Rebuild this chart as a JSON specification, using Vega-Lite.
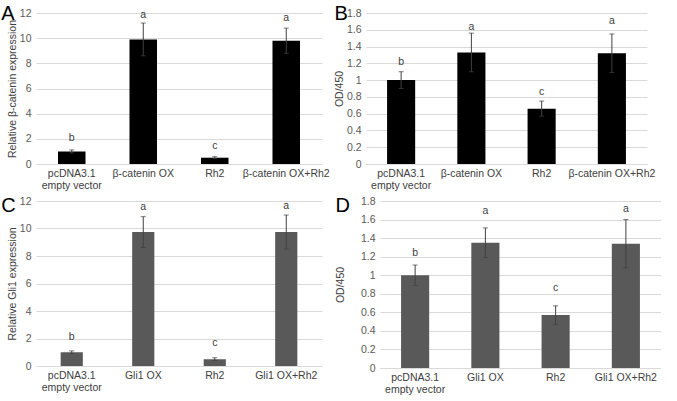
{
  "$schema": "https://vega.github.io/schema/vega-lite/v6.json",
  "padding": {"left": 1, "top": 4, "right": 0, "bottom": 0},
  "background": "white",
  "config": {
    "font": "Liberation Sans",
    "view": {"stroke": null},
    "axis": {"labelFontSize": 10.5, "labelColor": "#595959", "titleFontSize": 10.5, "titleColor": "#404040", "titleFontWeight": "normal", "gridColor": "#d9d9d9", "domainColor": "#d9d9d9", "ticks": false, "labelOverlap": false},
    "title": {"fontSize": 20, "fontWeight": "normal", "color": "#000000", "anchor": "start", "frame": "bounds"}
  },
  "vconcat": [
    {
      "spacing": 4,
      "hconcat": [
        {
          "width": 286, "height": 151,
          "title": {"text": "A", "offset": -16, "dx": -6},
          "data": {"values": [
            {"group": "pcDNA3.1|empty vector", "mean": 1.0, "err": 0.12, "letter": "b", "ly": 1.83},
            {"group": "β-catenin OX", "mean": 9.9, "err": 1.3, "letter": "a", "ly": 11.57},
            {"group": "Rh2", "mean": 0.5, "err": 0.08, "letter": "c", "ly": 1.19},
            {"group": "β-catenin OX+Rh2", "mean": 9.8, "err": 1.0, "letter": "a", "ly": 11.37}
          ]},
          "encoding": {"x": {"field": "group", "type": "nominal", "sort": null, "scale": {"paddingInner": 0.615, "paddingOuter": 0.3075}, "axis": {"title": null, "labelAngle": 0, "labelExpr": "split(datum.label, '|')", "labelLineHeight": 12, "labelPadding": 4, "labelColor": "#404040", "grid": false}}},
          "layer": [
            {"mark": {"type": "bar", "color": "#000000"}, "encoding": {"y": {"field": "mean", "type": "quantitative", "title": "Relative β-catenin expression", "scale": {"domain": [0, 12], "nice": false}, "axis": {"values": [0, 2, 4, 6, 8, 10, 12], "domain": false, "labelPadding": 5, "titlePadding": 2}}}},
            {"mark": {"type": "errorbar", "color": "#404040", "ticks": {"size": 5, "color": "#404040"}}, "encoding": {"y": {"field": "mean", "type": "quantitative", "title": "Relative β-catenin expression", "axis": {"values": [0, 2, 4, 6, 8, 10, 12], "domain": false, "labelPadding": 5, "titlePadding": 2}}, "yError": {"field": "err"}}},
            {"mark": {"type": "text", "baseline": "alphabetic", "fontSize": 10.5, "color": "#404040"}, "encoding": {"y": {"field": "ly", "type": "quantitative", "title": "Relative β-catenin expression", "axis": {"values": [0, 2, 4, 6, 8, 10, 12], "domain": false, "labelPadding": 5, "titlePadding": 2}}, "text": {"field": "letter"}}}
          ]
        },
        {
          "width": 281, "height": 151,
          "title": {"text": "B", "offset": -16, "dx": 0},
          "data": {"values": [
            {"group": "pcDNA3.1|empty vector", "mean": 1.0, "err": 0.1, "letter": "b", "ly": 1.18},
            {"group": "β-catenin OX", "mean": 1.33, "err": 0.23, "letter": "a", "ly": 1.60},
            {"group": "Rh2", "mean": 0.66, "err": 0.09, "letter": "c", "ly": 0.82},
            {"group": "β-catenin OX+Rh2", "mean": 1.32, "err": 0.23, "letter": "a", "ly": 1.67}
          ]},
          "encoding": {"x": {"field": "group", "type": "nominal", "sort": null, "scale": {"paddingInner": 0.6, "paddingOuter": 0.3}, "axis": {"title": null, "labelAngle": 0, "labelExpr": "split(datum.label, '|')", "labelLineHeight": 12, "labelPadding": 4, "labelColor": "#404040", "grid": false}}},
          "layer": [
            {"mark": {"type": "bar", "color": "#000000"}, "encoding": {"y": {"field": "mean", "type": "quantitative", "title": "OD/450", "scale": {"domain": [0, 1.8], "nice": false}, "axis": {"values": [0, 0.2, 0.4, 0.6, 0.8, 1, 1.2, 1.4, 1.6, 1.8], "format": "~g", "domain": false, "labelPadding": 5, "titlePadding": 2}}}},
            {"mark": {"type": "errorbar", "color": "#404040", "ticks": {"size": 5, "color": "#404040"}}, "encoding": {"y": {"field": "mean", "type": "quantitative", "title": "OD/450", "axis": {"values": [0, 0.2, 0.4, 0.6, 0.8, 1, 1.2, 1.4, 1.6, 1.8], "format": "~g", "domain": false, "labelPadding": 5, "titlePadding": 2}}, "yError": {"field": "err"}}},
            {"mark": {"type": "text", "baseline": "alphabetic", "fontSize": 10.5, "color": "#404040"}, "encoding": {"y": {"field": "ly", "type": "quantitative", "title": "OD/450", "axis": {"values": [0, 0.2, 0.4, 0.6, 0.8, 1, 1.2, 1.4, 1.6, 1.8], "format": "~g", "domain": false, "labelPadding": 5, "titlePadding": 2}}, "text": {"field": "letter"}}}
          ]
        }
      ]
    },
    {
      "spacing": 13,
      "hconcat": [
        {
          "width": 286, "height": 165,
          "title": {"text": "C", "offset": -20, "dx": -6},
          "data": {"values": [
            {"group": "pcDNA3.1|empty vector", "mean": 1.0, "err": 0.1, "letter": "b", "ly": 1.88},
            {"group": "Gli1 OX", "mean": 9.74, "err": 1.12, "letter": "a", "ly": 11.37},
            {"group": "Rh2", "mean": 0.5, "err": 0.1, "letter": "c", "ly": 1.46},
            {"group": "Gli1 OX+Rh2", "mean": 9.74, "err": 1.24, "letter": "a", "ly": 11.44}
          ]},
          "encoding": {"x": {"field": "group", "type": "nominal", "sort": null, "scale": {"paddingInner": 0.69, "paddingOuter": 0.345}, "axis": {"title": null, "labelAngle": 0, "labelExpr": "split(datum.label, '|')", "labelLineHeight": 12, "labelPadding": 4, "labelColor": "#404040", "grid": false}}},
          "layer": [
            {"mark": {"type": "bar", "color": "#595959"}, "encoding": {"y": {"field": "mean", "type": "quantitative", "title": "Relative Gli1 expression", "scale": {"domain": [0, 12], "nice": false}, "axis": {"values": [0, 2, 4, 6, 8, 10, 12], "domain": false, "labelPadding": 5, "titlePadding": 2}}}},
            {"mark": {"type": "errorbar", "color": "#404040", "ticks": {"size": 5, "color": "#404040"}}, "encoding": {"y": {"field": "mean", "type": "quantitative", "title": "Relative Gli1 expression", "axis": {"values": [0, 2, 4, 6, 8, 10, 12], "domain": false, "labelPadding": 5, "titlePadding": 2}}, "yError": {"field": "err"}}},
            {"mark": {"type": "text", "baseline": "alphabetic", "fontSize": 10.5, "color": "#404040"}, "encoding": {"y": {"field": "ly", "type": "quantitative", "title": "Relative Gli1 expression", "axis": {"values": [0, 2, 4, 6, 8, 10, 12], "domain": false, "labelPadding": 5, "titlePadding": 2}}, "text": {"field": "letter"}}}
          ]
        },
        {
          "width": 281, "height": 167,
          "title": {"text": "D", "offset": -20, "dx": 0},
          "data": {"values": [
            {"group": "pcDNA3.1|empty vector", "mean": 1.0, "err": 0.11, "letter": "b", "ly": 1.21},
            {"group": "Gli1 OX", "mean": 1.35, "err": 0.16, "letter": "a", "ly": 1.66},
            {"group": "Rh2", "mean": 0.57, "err": 0.1, "letter": "c", "ly": 0.83},
            {"group": "Gli1 OX+Rh2", "mean": 1.34, "err": 0.26, "letter": "a", "ly": 1.68}
          ]},
          "encoding": {"x": {"field": "group", "type": "nominal", "sort": null, "scale": {"paddingInner": 0.6, "paddingOuter": 0.3}, "axis": {"title": null, "labelAngle": 0, "labelExpr": "split(datum.label, '|')", "labelLineHeight": 12, "labelPadding": 4, "labelColor": "#404040", "grid": false}}},
          "layer": [
            {"mark": {"type": "bar", "color": "#595959"}, "encoding": {"y": {"field": "mean", "type": "quantitative", "title": "OD/450", "scale": {"domain": [0, 1.8], "nice": false}, "axis": {"values": [0, 0.2, 0.4, 0.6, 0.8, 1, 1.2, 1.4, 1.6, 1.8], "format": "~g", "domain": false, "labelPadding": 5, "titlePadding": 15}}}},
            {"mark": {"type": "errorbar", "color": "#404040", "ticks": {"size": 5, "color": "#404040"}}, "encoding": {"y": {"field": "mean", "type": "quantitative", "title": "OD/450", "axis": {"values": [0, 0.2, 0.4, 0.6, 0.8, 1, 1.2, 1.4, 1.6, 1.8], "format": "~g", "domain": false, "labelPadding": 5, "titlePadding": 15}}, "yError": {"field": "err"}}},
            {"mark": {"type": "text", "baseline": "alphabetic", "fontSize": 10.5, "color": "#404040"}, "encoding": {"y": {"field": "ly", "type": "quantitative", "title": "OD/450", "axis": {"values": [0, 0.2, 0.4, 0.6, 0.8, 1, 1.2, 1.4, 1.6, 1.8], "format": "~g", "domain": false, "labelPadding": 5, "titlePadding": 15}}, "text": {"field": "letter"}}}
          ]
        }
      ]
    }
  ],
  "spacing": 5
}
